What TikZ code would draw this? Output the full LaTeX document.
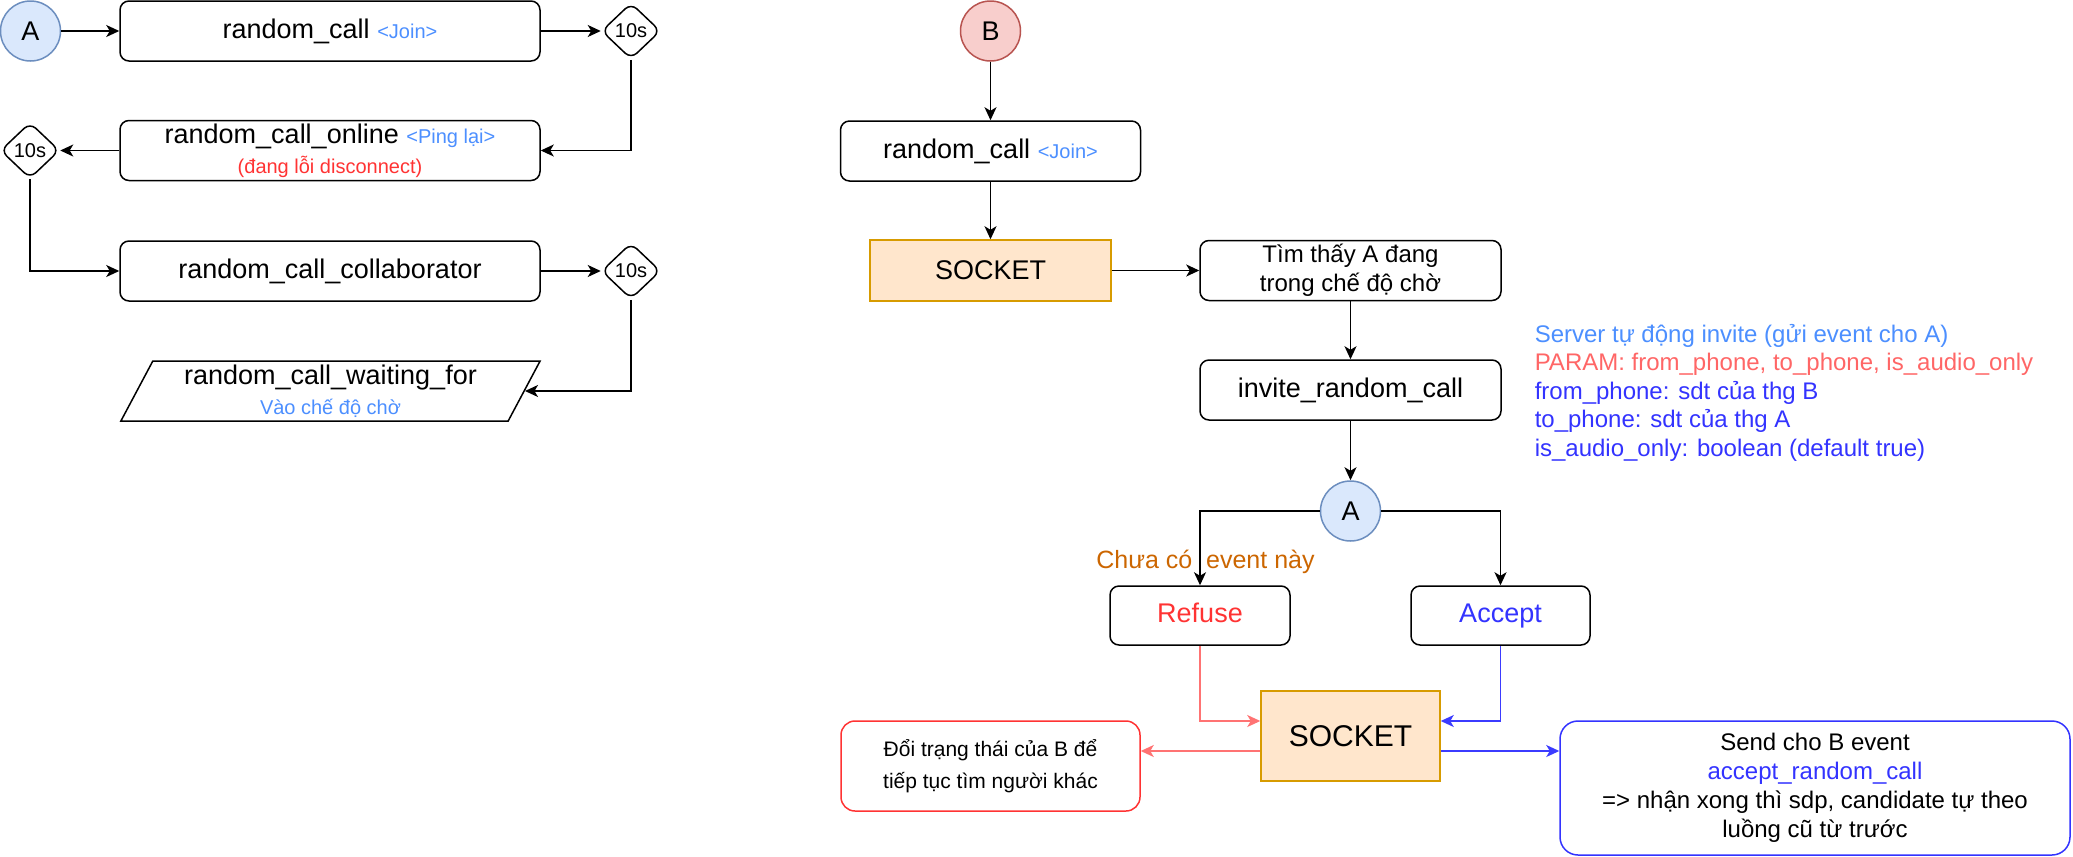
\documentclass[tikz,border=0pt]{standalone}
\usepackage{fontspec}
\setmainfont{Liberation Sans}
\usetikzlibrary{shapes.geometric,arrows.meta,calc}
\definecolor{jb}{HTML}{4C8FFF}
\definecolor{rd}{HTML}{FF3333}
\definecolor{pr}{HTML}{FF6666}
\definecolor{bl}{HTML}{3333FF}
\definecolor{ra}{HTML}{FF7373}
\definecolor{ba}{HTML}{3B3BFF}
\definecolor{og}{HTML}{CC6600}
\definecolor{sockf}{HTML}{FFE6CC}
\definecolor{sockd}{HTML}{D79B00}
\definecolor{cAf}{HTML}{DAE8FC}
\definecolor{cAd}{HTML}{6C8EBF}
\definecolor{cBf}{HTML}{F8CECC}
\definecolor{cBd}{HTML}{B85450}
\newcommand\fsz[2]{\fontsize{#1}{#2}\selectfont}
\begin{document}
\begin{tikzpicture}[x=1pt,y=-1pt,line width=1.5pt,
  >={Stealth[length=13pt,width=12pt,inset=3.5pt]},
  box/.style={draw,fill=white,rounded corners=9pt,inner sep=0pt,minimum height=60pt,font=\fsz{27}{32},align=center},
  oneline/.style={text height=19pt,text depth=6pt},
  sockbox/.style={draw=sockd,fill=sockf,inner sep=0pt,font=\fsz{27}{32}},
  circA/.style={circle,draw=cAd,fill=cAf,minimum size=60pt,inner sep=0pt,font=\fsz{27}{32}},
  circB/.style={circle,draw=cBd,fill=cBf,minimum size=60pt,inner sep=0pt,font=\fsz{27}{32}},
  wait/.style={diamond,draw,fill=white,rounded corners=8pt,minimum width=59pt,minimum height=56pt,inner sep=0pt,font=\fsz{20}{24}}]
\fill[white] (0,0) rectangle (2073,857);
\useasboundingbox (0,0) rectangle (2073,857);
% left column
\node[circA] (A1) at (30.5,31) {A};
\node[box,minimum width=420pt] (rc1) at (330,31) {random\_call {\color{jb}\fsz{20}{24}<Join>}};
\node[wait] (d1) at (631,31) {10s};
\node[box,minimum width=420pt] (rco) at (330,150.5) {random\_call\_online {\color{jb}\fsz{20}{24}<Ping lại>}\\[-2pt]{\color{rd}\fsz{20}{24}(đang lỗi disconnect)}};
\node[wait] (d2) at (30,150.5) {10s};
\node[box,minimum width=420pt] (rcc) at (330,271) {random\_call\_collaborator};
\node[wait] (d3) at (631,271) {10s};
\node[trapezium,trapezium left angle=63.43,trapezium right angle=116.57,trapezium stretches=true,
  minimum width=421pt,minimum height=60pt,draw,fill=white,inner sep=0pt,align=center,font=\fsz{27}{32}]
  (rcw) at (330.5,391) {random\_call\_waiting\_for\\[-2pt]{\color{jb}\fsz{20}{24}Vào chế độ chờ}};
\draw[->] (A1.east) -- (rc1.west);
\draw[->] (rc1.east) -- (d1.west);
\draw[->] (d1.south) |- (rco.east);
\draw[->] (rco.west) -- (d2.east);
\draw[->] (d2.south) |- (rcc.west);
\draw[->] (rcc.east) -- (d3.west);
\draw[->] (d3.south) |- (rcw.east);
% right part
\node[circB] (B1) at (990.5,31) {B};
\node[box,minimum width=300pt] (rc2) at (990.5,151) {random\_call {\color{jb}\fsz{20}{24}<Join>}};
\node[sockbox,minimum width=241pt,minimum height=61pt] (sock1) at (990.5,270.5) {SOCKET};
\node[box,minimum width=301pt,font=\fsz{24}{29}] (tim) at (1350.5,270.5) {Tìm thấy A đang\\trong chế độ chờ};
\node[box,minimum width=301pt] (inv) at (1350.5,390) {invite\_random\_call};
\node[circA] (A2) at (1350.5,511) {A};
\node[box,oneline,minimum width=180pt,minimum height=59pt,text=rd] (refuse) at (1200,615.5) {Refuse};
\node[box,oneline,minimum width=179pt,minimum height=59pt,text=bl] (accept) at (1500.5,615.5) {Accept};
\node[sockbox,minimum width=179pt,minimum height=90pt,font=\fsz{30}{36}] (sock2) at (1350.5,736) {SOCKET};
\node[box,draw=rd,rounded corners=14pt,minimum width=299pt,minimum height=90pt,font=\fsz{21}{32}] (doi) at (990.5,766) {Đổi trạng thái của B để\\tiếp tục tìm người khác};
\node[box,draw=bl,rounded corners=18pt,minimum width=510pt,minimum height=134pt,font=\fsz{24}{29}] (send) at (1815,788) {Send cho B event\\{\color{bl}accept\_random\_call}\\=> nhận xong thì sdp, candidate tự theo\\luồng cũ từ trước};
\node[anchor=west,align=left,inner sep=0pt,font=\fsz{24}{28.5}] (info) at (1534,392.5)
  {{\color{jb}Server tự động invite (gửi event cho A)}\\
   {\color{pr}PARAM: from\_phone, to\_phone, is\_audio\_only}\\
   {\color{bl}from\_phone: sdt của thg B}\\
   {\color{bl}to\_phone: sdt của thg A}\\
   {\color{bl}is\_audio\_only: boolean (default true)}};
\node[inner sep=0pt,text=og,font=\fsz{25}{30}] (chua) at (1205.5,562) {Chưa có\ \ event này};
\draw[->] (B1.south) -- (rc2.north);
\draw[->] (rc2.south) -- (sock1.north);
\draw[->] (sock1.east) -- (tim.west);
\draw[->] (tim.south) -- (inv.north);
\draw[->] (inv.south) -- (A2.north);
\draw[->] (A2.west) -| (refuse.north);
\draw[->] (A2.east) -| (accept.north);
\draw[->,color=ra] (refuse.south) |- ([yshift=15pt]sock2.west);
\draw[->,color=ba] (accept.south) |- ([yshift=15pt]sock2.east);
\draw[->,color=ra] ([yshift=-15pt]sock2.west) -- ([yshift=-15pt]sock2.west -| doi.east);
\draw[->,color=ba] ([yshift=-15pt]sock2.east) -- ([yshift=-15pt]sock2.east -| send.west);
\end{tikzpicture}
\end{document}
